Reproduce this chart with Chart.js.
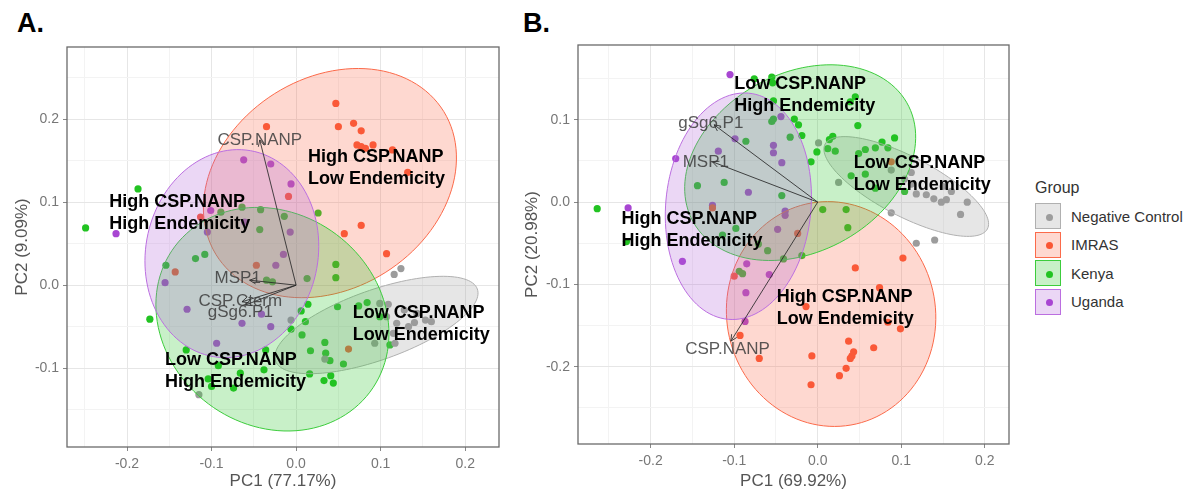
<!DOCTYPE html>
<html>
<head>
<meta charset="utf-8">
<script src="https://cdn.jsdelivr.net/npm/chart.js@4.4.1/dist/chart.umd.min.js"></script>
<style>
  body { margin: 0; background: #fff; font-family: 'Liberation Sans', Arial, sans-serif; }
  #wrap { position: relative; width: 1189px; height: 493px; overflow: hidden; }
  canvas { position: absolute; top: 0; }
  .tag { position: absolute; top: 10px; font: bold 27px 'Liberation Sans', Arial, sans-serif; line-height: 27px; color: #000; }
  #legend { position: absolute; left: 1035px; top: 177px; color: #333; font-size: 15px; }
  #legend .ttl { height: 25px; line-height: 22px; font-size: 16px; }
  #legend .row { height: 28.5px; display: flex; align-items: center; }
  #legend .key { width: 26px; height: 26px; box-sizing: border-box; border: 1px solid; position: relative; margin-right: 10px; }
  #legend .key i { position: absolute; left: 9.5px; top: 9.5px; width: 7px; height: 7px; border-radius: 50%; }
</style>
</head>
<body>
<div id="wrap">
  <div class="tag" style="left:17px">A.</div>
  <div class="tag" style="left:523px">B.</div>
  <canvas id="chartA" width="510" height="493" style="left:0"></canvas>
  <canvas id="chartB" width="515" height="493" style="left:510px"></canvas>
  <div id="legend"></div>
</div>
<script>
// groups
const groups = ["Negative Control", "IMRAS", "Kenya", "Uganda"];
const pointColors = ["#9c9c9c", "#fa5634", "#22c322", "#a846d2"];
const fillColors = ["rgba(155,155,155,0.25)", "rgba(251,100,66,0.25)", "rgba(35,195,35,0.25)", "rgba(175,95,215,0.25)"];
const edgeColors = ["#b0b0b0", "#fb6a4a", "#3ccc3c", "#bb6ee0"];

// ---- panel A: PC scores [PC1, PC2] ----
const negA = [[0.116,0.013],[0.124,0.020],[0.109,-0.023],[0.099,-0.022],[0.107,-0.038],[0.119,-0.046],[0.115,-0.058],[0.117,-0.070],[0.093,-0.070],[0.153,-0.042],[0.160,-0.044],[0.143,-0.034],[0.133,-0.050],[0.034,-0.089],[-0.006,-0.042],[-0.115,-0.132],[0.128,-0.030],[0.140,-0.045]];
const imrasA = [[0.047,0.219],[-0.035,0.191],[0.050,0.191],[0.068,0.195],[0.077,0.186],[0.072,0.169],[0.077,0.167],[0.082,0.165],[0.091,0.169],[0.114,0.163],[0.132,0.136],[-0.009,0.107],[0.077,0.072],[0.057,0.062],[0.107,0.038],[-0.113,0.082],[-0.047,0.024],[-0.143,0.016],[0.062,-0.077]];
const kenyaA = [[-0.249,0.069],[-0.187,0.116],[-0.064,0.094],[-0.042,0.091],[-0.089,0.088],[-0.014,0.083],[0.026,0.087],[-0.043,0.067],[-0.108,0.037],[-0.119,0.032],[-0.154,0.024],[0.047,0.025],[0.047,0.009],[0.013,0.008],[-0.035,0.006],[0.014,-0.023],[0.006,-0.031],[0.011,-0.044],[-0.006,-0.053],[0.007,-0.060],[0.049,-0.026],[0.074,-0.025],[0.084,-0.021],[0.099,-0.038],[0.034,-0.069],[0.017,-0.079],[0.035,-0.082],[0.040,-0.091],[0.056,-0.095],[0.111,-0.072],[-0.173,-0.041],[-0.130,-0.078],[-0.036,-0.078],[-0.092,-0.097],[-0.038,-0.102],[-0.066,-0.106],[-0.104,-0.113],[-0.100,-0.122],[-0.074,-0.124],[0.016,-0.107],[0.041,-0.109],[0.033,-0.115],[0.044,-0.118],[-0.028,0.004]];
const ugandaA = [[-0.062,0.151],[-0.030,0.146],[-0.006,0.122],[-0.101,0.090],[-0.061,0.076],[-0.105,0.064],[-0.007,0.064],[-0.213,0.062],[-0.015,0.037],[-0.024,0.024],[-0.155,0.003],[-0.129,-0.029],[-0.041,-0.035],[-0.064,-0.046],[-0.030,-0.050],[-0.094,-0.070]];
// ellipses: [centre PC1, centre PC2, semi-major, semi-minor, angle deg]
const ellipsesA = [[0.095,-0.048,0.127,0.042,20],[0.040,0.123,0.160,0.126,35],[-0.028,-0.041,0.145,0.127,-40],[-0.076,0.038,0.126,0.102,80]];
// loadings
const varNamesA = ["CSP.NANP", "MSP1", "CSP.Cterm", "gSg6.P1"];
const varTipsA = [[-0.043,0.175],[-0.055,0.006],[-0.064,-0.020],[-0.060,-0.024]];
const varLabelsA = [[-0.043,0.175],[-0.069,0.008],[-0.066,-0.019],[-0.066,-0.033]];
const notesA = [["High CSP.NANP","Low Endemicity",0.014,0.155],["High CSP.NANP","High Endemicity",-0.221,0.100],["Low CSP.NANP","Low Endemicity",0.067,-0.033],["Low CSP.NANP","High Endemicity",-0.155,-0.090]];

// ---- panel B ----
const negB = [[0.001,0.072],[0.025,0.024],[0.088,0.039],[0.112,0.036],[0.104,0.028],[0.112,0.022],[0.088,-0.013],[0.118,0.010],[0.130,0.009],[0.139,0.004],[0.148,0.000],[0.154,0.003],[0.160,0.013],[0.179,0.000],[0.171,-0.015],[0.118,-0.050],[0.140,-0.046],[0.150,0.019]];
const imrasB = [[0.102,-0.068],[0.045,-0.080],[0.074,-0.104],[-0.014,-0.127],[0.084,-0.146],[0.099,-0.154],[0.037,-0.169],[0.067,-0.177],[0.043,-0.182],[0.041,-0.187],[0.039,-0.190],[-0.007,-0.187],[-0.070,-0.190],[0.034,-0.202],[0.026,-0.211],[-0.008,-0.222],[-0.093,-0.162],[-0.100,-0.090],[-0.024,-0.038],[-0.126,-0.007],[0.088,0.049]];
const kenyaB = [[-0.264,-0.008],[-0.229,-0.048],[-0.076,0.150],[-0.055,0.152],[-0.054,0.145],[-0.053,0.123],[0.045,0.128],[0.039,0.122],[-0.028,0.101],[-0.023,0.094],[-0.055,0.098],[-0.053,0.101],[0.048,0.093],[-0.019,0.081],[-0.033,0.079],[-0.086,0.074],[0.014,0.076],[0.018,0.080],[0.012,0.065],[0.021,0.062],[-0.001,0.061],[0.049,0.059],[0.057,0.064],[0.069,0.066],[0.084,0.066],[0.092,0.078],[0.077,0.073],[-0.008,0.049],[0.040,0.032],[0.057,0.034],[-0.144,0.020],[-0.112,0.024],[-0.043,0.008],[0.069,0.017],[0.104,0.013],[0.006,-0.009],[0.034,-0.009],[0.036,-0.031],[-0.114,-0.040],[-0.098,-0.032],[-0.060,-0.059],[-0.041,-0.069],[-0.019,-0.065],[-0.094,-0.084],[-0.090,-0.087],[-0.071,-0.051]];
const ugandaB = [[-0.105,0.155],[-0.099,0.077],[-0.119,0.062],[-0.170,0.053],[-0.053,0.069],[-0.053,0.060],[-0.043,0.048],[-0.083,0.012],[-0.227,-0.007],[-0.126,-0.004],[-0.039,-0.011],[-0.039,-0.016],[-0.048,-0.033],[-0.162,-0.072],[-0.085,-0.075],[-0.058,-0.088],[-0.086,-0.110],[-0.087,-0.145],[-0.044,0.104]];
const ellipsesB = [[0.106,0.019,0.110,0.036,-28],[0.016,-0.136,0.137,0.125,100],[-0.021,0.048,0.147,0.108,30],[-0.095,-0.005,0.138,0.087,85]];
const varNamesB = ["gSg6.P1", "MSP1", "CSP.NANP"];
const varTipsB = [[-0.124,0.094],[-0.126,0.049],[-0.104,-0.169]];
const varLabelsB = [[-0.128,0.096],[-0.134,0.049],[-0.108,-0.179]];
const notesB = [["Low CSP.NANP","High Endemicity",-0.100,0.143],["Low CSP.NANP","Low Endemicity",0.043,0.047],["High CSP.NANP","High Endemicity",-0.235,-0.021],["High CSP.NANP","Low Endemicity",-0.049,-0.115]];

// axis ticks
const majorX = [-0.2, -0.1, 0, 0.1, 0.2];
const minorX = [-0.25, -0.15, -0.05, 0.05, 0.15];
const majorYA = [-0.1, 0, 0.1, 0.2];
const minorYA = [-0.15, -0.05, 0.05, 0.15, 0.25];
const majorYB = [-0.2, -0.1, 0, 0.1];
const minorYB = [-0.25, -0.15, -0.05, 0.05, 0.15];

Chart.defaults.font.family = "'Liberation Sans', Arial, sans-serif";

function isMajor(v, majors) {
  return majors.some(m => Math.abs(m - v) < 1e-9);
}

function makeAxis(majors, minors, min, max, title, fitSize, horizontal) {
  const titlePad = horizontal ? { top: 0, bottom: 1 } : { top: 12, bottom: 0 };
  return {
    type: "linear",
    min: min,
    max: max,
    afterBuildTicks: (scale) => {
      scale.ticks = majors.concat(minors).sort((a, b) => a - b).map(v => ({ value: v }));
    },
    afterFit: (scale) => {
      if (horizontal) scale.height = fitSize; else scale.width = fitSize;
    },
    ticks: {
      autoSkip: false,
      maxRotation: 0,
      padding: horizontal ? 5 : 4,
      color: "#777",
      font: { size: 14 },
      callback: (v) => isMajor(v, majors) ? (Math.abs(v) < 1e-9 ? "0.0" : v.toFixed(1)) : ""
    },
    grid: {
      color: (c) => isMajor(c.tick.value, majors) ? "#e6e6e6" : "#f3f3f3",
      tickColor: (c) => isMajor(c.tick.value, majors) ? "#888" : "rgba(0,0,0,0)",
      tickLength: 4,
      lineWidth: 1
    },
    border: { display: false },
    title: { display: true, text: title, color: "#555", font: { size: 17 }, padding: titlePad }
  };
}

function makeLayers(ellipses, names, tips, labels, notes) {
  return {
    id: "biplotLayers",
    afterDatasetsDraw(chart) {
      const { ctx, chartArea: area, scales: { x, y } } = chart;
      ctx.save();
      ctx.beginPath();
      ctx.rect(area.left, area.top, area.width, area.height);
      ctx.clip();

      // confidence ellipses on top of the points
      ellipses.forEach((e, i) => {
        const [cx, cy, a, b, deg] = e;
        const th = deg * Math.PI / 180;
        ctx.beginPath();
        for (let k = 0; k <= 120; k++) {
          const t = k / 120 * 2 * Math.PI;
          const dx = a * Math.cos(t), dy = b * Math.sin(t);
          const px = x.getPixelForValue(cx + dx * Math.cos(th) - dy * Math.sin(th));
          const py = y.getPixelForValue(cy + dx * Math.sin(th) + dy * Math.cos(th));
          if (k === 0) ctx.moveTo(px, py); else ctx.lineTo(px, py);
        }
        ctx.closePath();
        ctx.fillStyle = fillColors[i];
        ctx.fill();
        ctx.strokeStyle = edgeColors[i];
        ctx.lineWidth = 1;
        ctx.stroke();
      });

      // loading arrows
      const ox = x.getPixelForValue(0), oy = y.getPixelForValue(0);
      ctx.strokeStyle = "rgba(40,40,40,0.85)";
      ctx.lineWidth = 1;
      tips.forEach(([tx, ty]) => {
        const px = x.getPixelForValue(tx), py = y.getPixelForValue(ty);
        const ang = Math.atan2(py - oy, px - ox);
        ctx.beginPath();
        ctx.moveTo(ox, oy);
        ctx.lineTo(px, py);
        ctx.moveTo(px - 7 * Math.cos(ang - 0.45), py - 7 * Math.sin(ang - 0.45));
        ctx.lineTo(px, py);
        ctx.lineTo(px - 7 * Math.cos(ang + 0.45), py - 7 * Math.sin(ang + 0.45));
        ctx.stroke();
      });

      ctx.font = "17px 'Liberation Sans', Arial, sans-serif";
      ctx.fillStyle = "rgba(60,60,60,0.85)";
      ctx.textAlign = "center";
      ctx.textBaseline = "middle";
      names.forEach((n, i) => {
        ctx.fillText(n, x.getPixelForValue(labels[i][0]), y.getPixelForValue(labels[i][1]));
      });

      ctx.font = "bold 18px 'Liberation Sans', Arial, sans-serif";
      ctx.fillStyle = "#000";
      ctx.textAlign = "left";
      notes.forEach(([l1, l2, nx, ny]) => {
        const px = x.getPixelForValue(nx), py = y.getPixelForValue(ny);
        ctx.fillText(l1, px, py);
        ctx.fillText(l2, px, py + 22);
      });
      ctx.restore();

      // panel border
      ctx.save();
      ctx.strokeStyle = "#6a6a6a";
      ctx.lineWidth = 1.3;
      ctx.strokeRect(area.left, area.top, area.width, area.height);
      ctx.restore();
    }
  };
}

function buildChart(id, series, xr, yr, yMaj, yMin, xTitle, yTitle, pad, xFit, yFit, layers) {
  return new Chart(document.getElementById(id), {
    type: "scatter",
    data: {
      datasets: series.map((pts, i) => ({
        label: groups[i],
        data: pts.map(p => ({ x: p[0], y: p[1] })),
        backgroundColor: pointColors[i],
        borderWidth: 0,
        pointRadius: 3.6
      }))
    },
    options: {
      responsive: false,
      animation: false,
      layout: { padding: pad },
      plugins: { legend: { display: false }, tooltip: { enabled: false } },
      scales: {
        x: makeAxis(majorX, minorX, xr[0], xr[1], xTitle, xFit, true),
        y: makeAxis(yMaj, yMin, yr[0], yr[1], yTitle, yFit, false)
      }
    },
    plugins: [layers]
  });
}

buildChart("chartA", [negA, imrasA, kenyaA, ugandaA], [-0.271, 0.240], [-0.195, 0.287],
  majorYA, minorYA, "PC1 (77.17%)", "PC2 (9.09%)",
  { top: 47, right: 11, bottom: 0, left: 0 }, 46, 67,
  makeLayers(ellipsesA, varNamesA, varTipsA, varLabelsA, notesA));

buildChart("chartB", [negB, imrasB, kenyaB, ugandaB], [-0.287, 0.229], [-0.294, 0.191],
  majorYB, minorYB, "PC1 (69.92%)", "PC2 (20.98%)",
  { top: 45, right: 16, bottom: 0, left: 0 }, 49, 68,
  makeLayers(ellipsesB, varNamesB, varTipsB, varLabelsB, notesB));

// legend
const legend = document.getElementById("legend");
legend.innerHTML = '<div class="ttl">Group</div>' + groups.map((g, i) =>
  '<div class="row"><span class="key" style="background:' + fillColors[i] + ';border-color:' + edgeColors[i] +
  '"><i style="background:' + pointColors[i] + '"></i></span>' + g + '</div>').join("");
</script>
</body>
</html>
